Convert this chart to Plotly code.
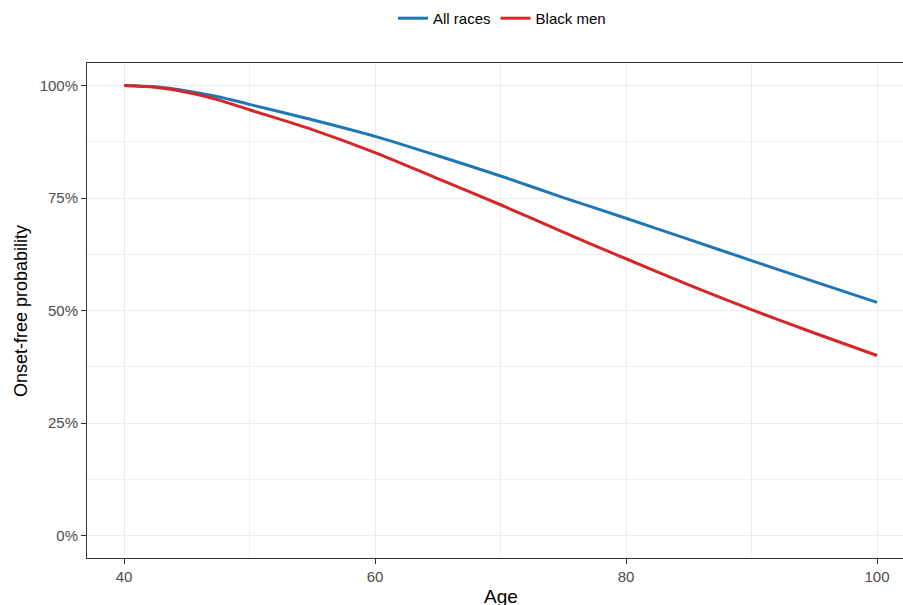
import plotly.graph_objects as go

# Onset-free probability by age
age = [40, 42.5, 45, 47.5, 50, 55, 60, 65, 70, 75, 80, 85, 90, 95, 100]
all_races = [1.000, 0.997, 0.988, 0.975, 0.958, 0.924, 0.887, 0.844, 0.799, 0.751, 0.705, 0.658, 0.611, 0.564, 0.518]
black_men = [1.000, 0.996, 0.985, 0.968, 0.946, 0.902, 0.851, 0.793, 0.735, 0.674, 0.615, 0.557, 0.502, 0.450, 0.400]

series_names = ["All races", "Black men"]
series_colors = ["#1f77b4", "#d62728"]

FONT = "Liberation Sans, Arial, sans-serif"

fig = go.Figure()
for name, vals, col in zip(series_names, [all_races, black_men], series_colors):
    fig.add_trace(go.Scatter(
        x=age, y=vals, mode="lines", name=name,
        line=dict(color=col, width=3, shape="spline", smoothing=0.8),
    ))

axis_common = dict(
    showgrid=True, gridcolor="#EBEBEB", gridwidth=1.3,
    zeroline=False,
    ticks="outside", ticklen=5, tickwidth=1, tickcolor="#333333",
    tickfont=dict(family=FONT, size=15, color="#4D4D4D"),
    showline=True, linecolor="#333333", linewidth=1,
)

fig.update_xaxes(
    range=[37.05, 102.07], tick0=40, dtick=20,
    minor=dict(dtick=10, tick0=40, showgrid=True, gridcolor="#EFEFEF", gridwidth=1, ticks=""),
    mirror=True,
    **axis_common,
)
fig.update_yaxes(
    range=[-0.05, 1.05], tick0=0, dtick=0.25, tickformat=".0%",
    minor=dict(dtick=0.125, tick0=0, showgrid=True, gridcolor="#EFEFEF", gridwidth=1, ticks=""),
    **axis_common,
)

fig.add_annotation(
    text="Age", xref="paper", yref="paper", x=0.507, y=-0.077,
    xanchor="center", yanchor="middle", showarrow=False,
    font=dict(family=FONT, size=19, color="#000000"),
)
fig.add_annotation(
    text="Onset-free probability", xref="paper", yref="paper", x=-0.0815, y=0.5,
    xanchor="center", yanchor="middle", textangle=-90, showarrow=False,
    font=dict(family=FONT, size=18, color="#000000"),
)

fig.update_layout(
    width=903, height=605,
    margin=dict(l=87, r=0, t=63, b=47),
    paper_bgcolor="white", plot_bgcolor="white",
    font=dict(family=FONT),
    showlegend=True,
    legend=dict(
        orientation="h", x=0.5086, y=1.09, xanchor="center", yanchor="middle",
        font=dict(family=FONT, size=15, color="#000000"),
        bgcolor="rgba(0,0,0,0)", itemwidth=30,
    ),
)

fig.write_html("out.html")
